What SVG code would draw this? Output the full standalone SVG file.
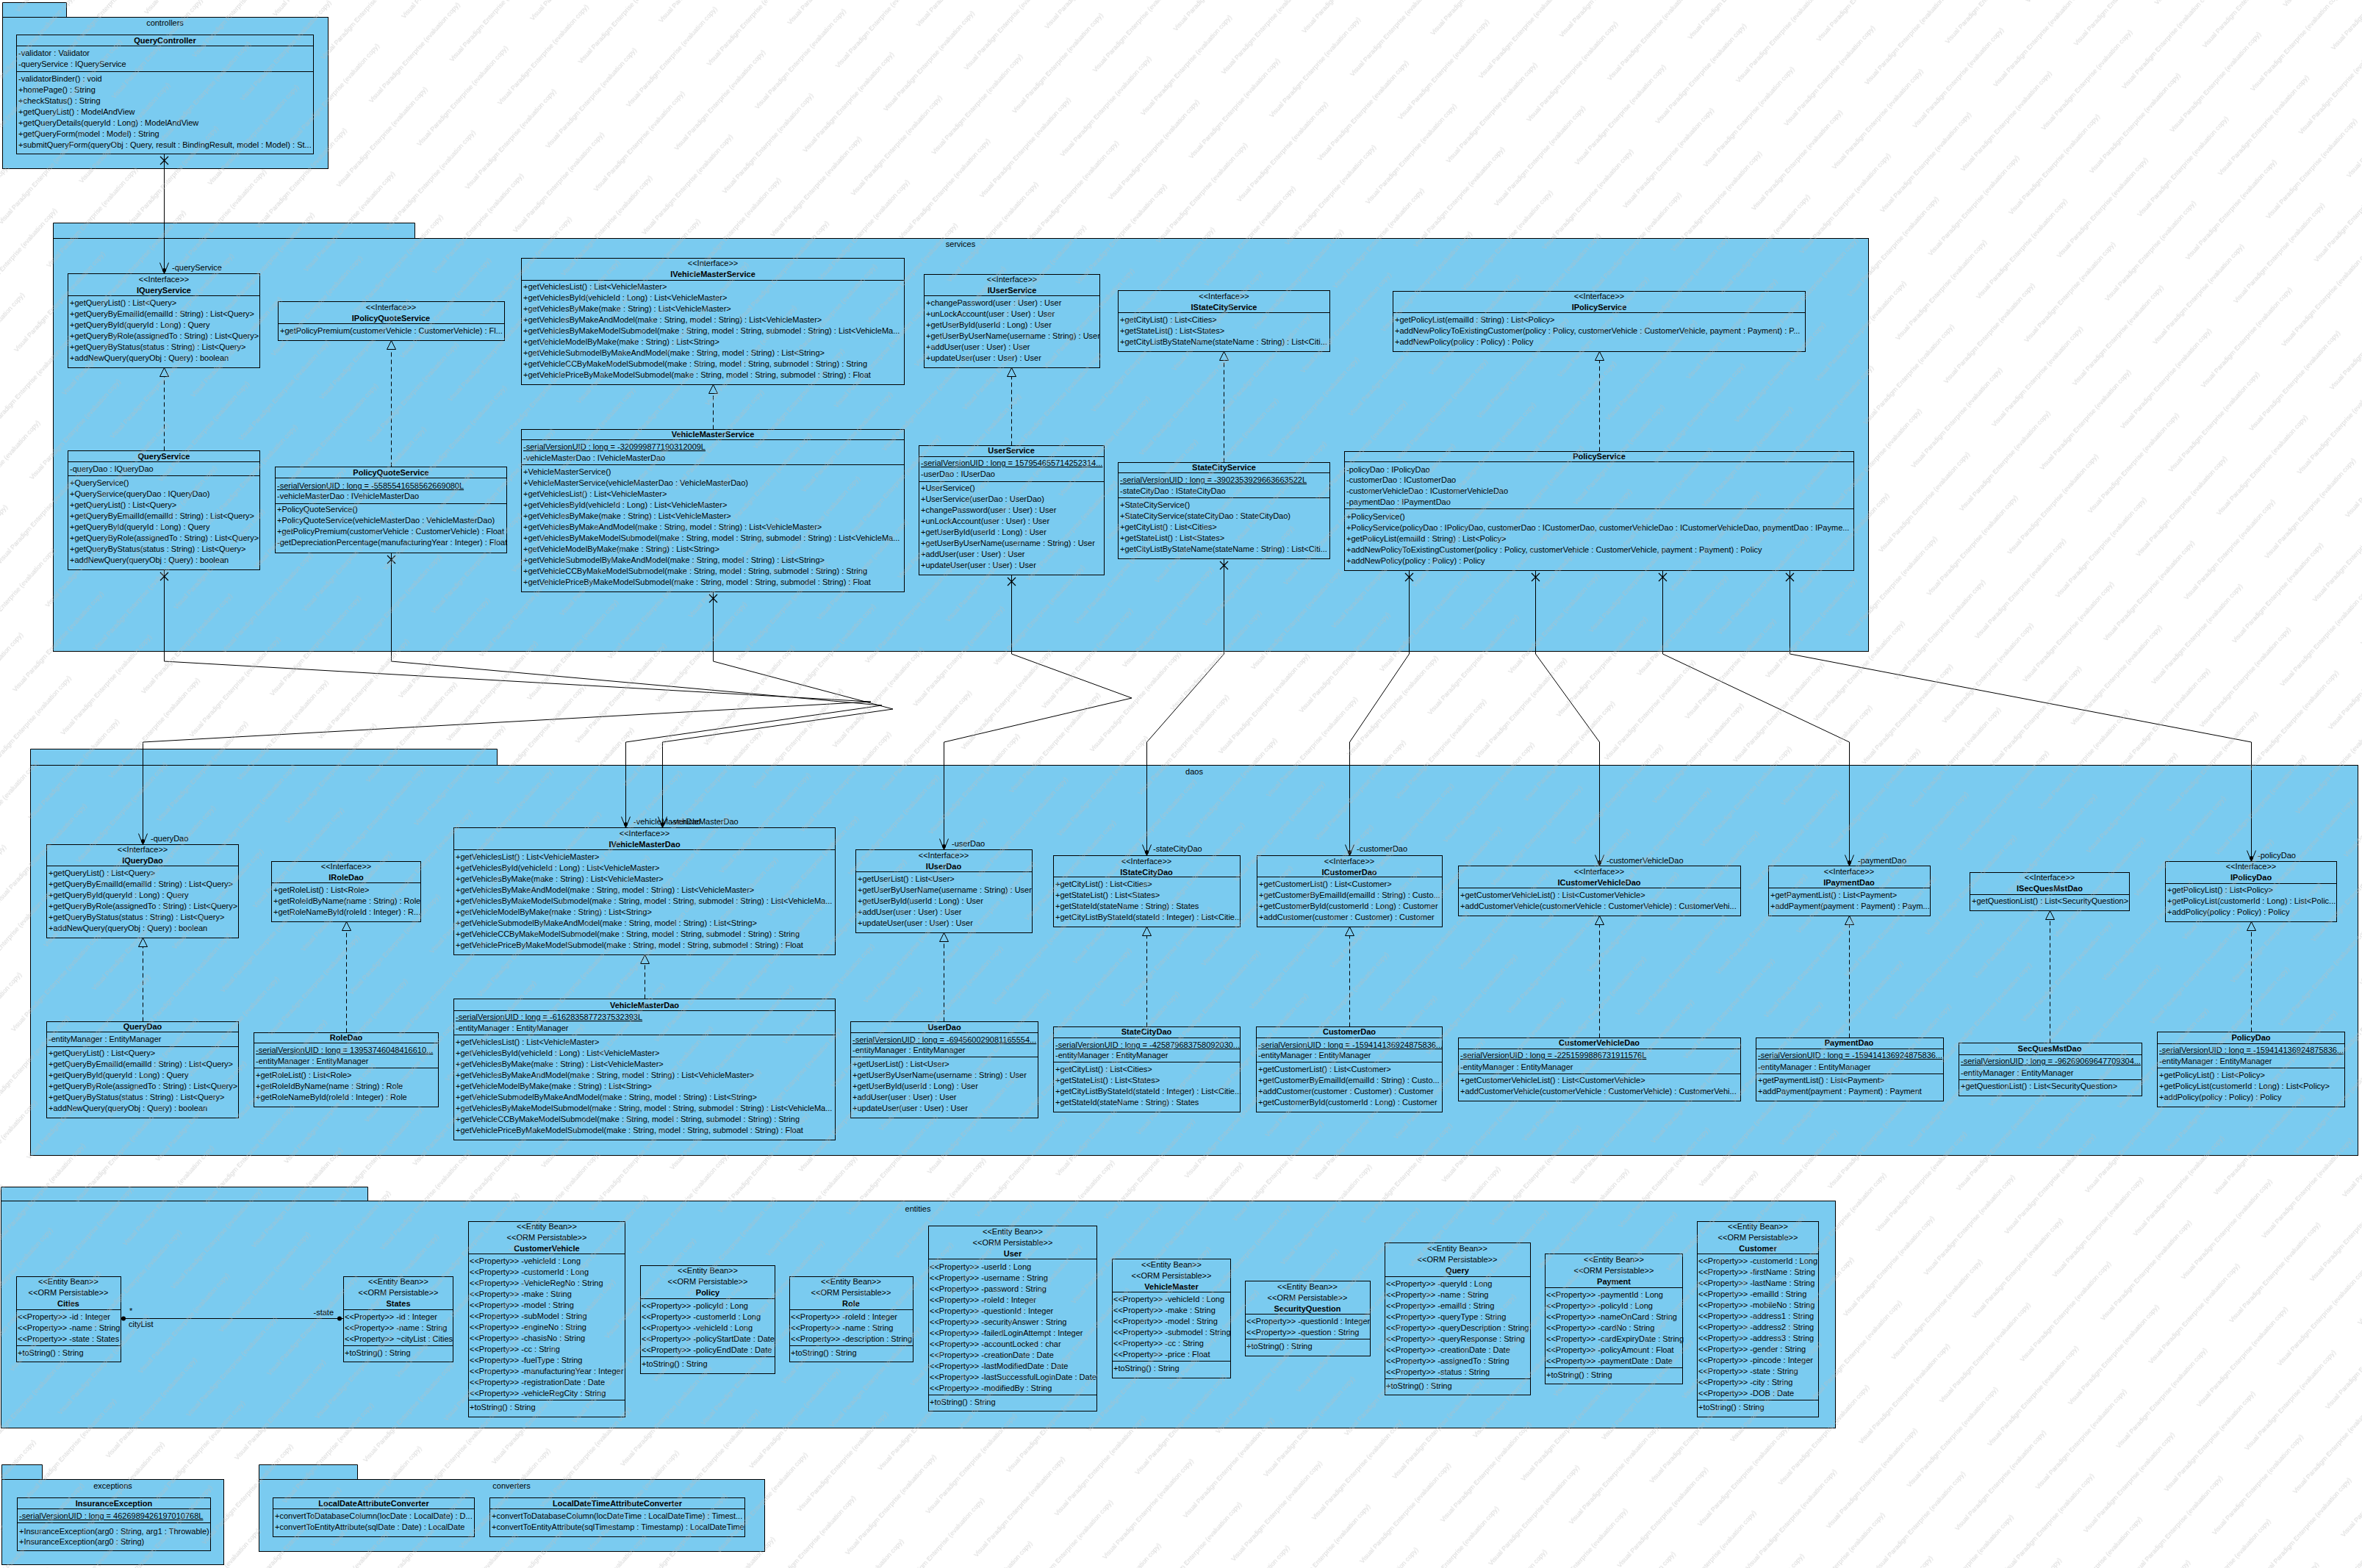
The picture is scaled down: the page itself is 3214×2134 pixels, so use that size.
<svg xmlns="http://www.w3.org/2000/svg" width="3214" height="2134" viewBox="0 0 3214 2134">
<style>
.pk{fill:#7ACBF0;stroke:#000;stroke-width:1}
.cl{fill:#7ACBF0;stroke:#000;stroke-width:1}
.sep{stroke:#000;stroke-width:1;fill:none}
.t{font-family:"Liberation Sans",Arial,sans-serif;font-size:11px;fill:#000}
.b{font-weight:bold}
.c{text-anchor:middle}
.u{text-decoration:underline}
.ln{stroke:#000;stroke-width:1;fill:none}
.comp{marker-start:url(#xend);marker-end:url(#nav)}
.real{stroke-dasharray:6 4;marker-end:url(#tri)}
.wmt{font-family:"Liberation Sans",Arial,sans-serif;font-size:9px;fill:#bdbdbd;fill-opacity:0.6}
</style>
<defs>
<marker id="nav" markerUnits="userSpaceOnUse" viewBox="-20 -10 24 20" refX="0" refY="0" markerWidth="24" markerHeight="20" orient="auto" overflow="visible">
<path d="M-15,-6L0,0L-15,6" fill="none" stroke="#000" stroke-width="1"/>
<circle cx="-5" cy="0" r="2.6" fill="#000"/>
</marker>
<marker id="xend" markerUnits="userSpaceOnUse" viewBox="-2 -8 20 16" refX="0" refY="0" markerWidth="20" markerHeight="16" orient="auto" overflow="visible">
<path d="M3.5,-5.5L14.5,5.5M3.5,5.5L14.5,-5.5" fill="none" stroke="#000" stroke-width="1.2"/>
</marker>
<marker id="tri" markerUnits="userSpaceOnUse" viewBox="-14 -8 16 16" refX="0" refY="0" markerWidth="16" markerHeight="16" orient="auto" overflow="visible">
<path d="M0,0L-12,-6L-12,6Z" fill="#7ACBF0" stroke="#000" stroke-width="1" stroke-dasharray="none"/>
</marker>
<!-- evaluation-copy watermark, tiled diagonally over the whole sheet -->
<pattern id="wm" patternUnits="userSpaceOnUse" width="230" height="88" patternTransform="rotate(-48)">
<text class="wmt" x="4" y="30">Visual Paradigm Enterprise (evaluation copy)</text>
<text class="wmt" x="119" y="74">Visual Paradigm Enterprise (evaluation copy)</text>
<text class="wmt" x="-111" y="74">Visual Paradigm Enterprise (evaluation copy)</text>
</pattern>
</defs>
<rect x="0" y="0" width="3214" height="2134" fill="#fff"/>

<!-- packages -->
<g id="pkg-controllers">
<path class="pk" d="M3.5,3.5H90.5V23.5H3.5Z"/><rect class="pk" x="3.5" y="23.5" width="443" height="206"/>
<text class="t c" x="224.5" y="35">controllers</text>
</g>
<g id="pkg-services">
<path class="pk" d="M72.5,303.5H564.5V324.5H72.5Z"/><rect class="pk" x="72.5" y="324.5" width="2470" height="562"/>
<text class="t c" x="1307" y="336">services</text>
</g>
<g id="pkg-daos">
<path class="pk" d="M41.5,1019.5H676.5V1041.5H41.5Z"/><rect class="pk" x="41.5" y="1041.5" width="3167" height="531"/>
<text class="t c" x="1625" y="1054">daos</text>
</g>
<g id="pkg-entities">
<path class="pk" d="M1.5,1615.5H500.5V1634.5H1.5Z"/><rect class="pk" x="1.5" y="1634.5" width="2496" height="309"/>
<text class="t c" x="1249" y="1649">entities</text>
</g>
<g id="pkg-exceptions">
<path class="pk" d="M2.5,1993.5H57.5V2013.5H2.5Z"/><rect class="pk" x="2.5" y="2013.5" width="302" height="116"/>
<text class="t c" x="153.5" y="2026">exceptions</text>
</g>
<g id="pkg-converters">
<path class="pk" d="M352.5,1993.5H486.5V2013.5H352.5Z"/><rect class="pk" x="352.5" y="2013.5" width="688" height="98"/>
<text class="t c" x="696" y="2026">converters</text>
</g>

<!-- controllers -->
<g id="QueryController">
<rect class="cl" x="22.5" y="47.5" width="404" height="162"/>
<path class="sep" d="M22.5,62.5H426.5M22.5,97.5H426.5"/>
<text class="t b c" x="224.5" y="59">QueryController</text>
<text class="t"><tspan x="25" y="76">-validator : Validator</tspan><tspan x="25" y="91">-queryService : IQueryService</tspan><tspan x="25" y="111">-validatorBinder() : void</tspan><tspan x="25" y="126">+homePage() : String</tspan><tspan x="25" y="141">+checkStatus() : String</tspan><tspan x="25" y="156">+getQueryList() : ModelAndView</tspan><tspan x="25" y="171">+getQueryDetails(queryId : Long) : ModelAndView</tspan><tspan x="25" y="186">+getQueryForm(model : Model) : String</tspan><tspan x="25" y="201">+submitQueryForm(queryObj : Query, result : BindingResult, model : Model) : St...</tspan></text>
</g>

<!-- services -->
<g id="IQueryService">
<rect class="cl" x="92.5" y="372.5" width="261" height="128"/>
<path class="sep" d="M92.5,402.5H353.5"/>
<text class="t c" x="223" y="384">&lt;&lt;Interface&gt;&gt;</text>
<text class="t b c" x="223" y="399">IQueryService</text>
<text class="t"><tspan x="95" y="416">+getQueryList() : List&lt;Query&gt;</tspan><tspan x="95" y="431">+getQueryByEmailId(emailId : String) : List&lt;Query&gt;</tspan><tspan x="95" y="446">+getQueryById(queryId : Long) : Query</tspan><tspan x="95" y="461">+getQueryByRole(assignedTo : String) : List&lt;Query&gt;</tspan><tspan x="95" y="476">+getQueryByStatus(status : String) : List&lt;Query&gt;</tspan><tspan x="95" y="491">+addNewQuery(queryObj : Query) : boolean</tspan></text>
</g>
<g id="IPolicyQuoteService">
<rect class="cl" x="378.5" y="410.5" width="308" height="53"/>
<path class="sep" d="M378.5,440.5H686.5"/>
<text class="t c" x="532" y="422">&lt;&lt;Interface&gt;&gt;</text>
<text class="t b c" x="532" y="437">IPolicyQuoteService</text>
<text class="t"><tspan x="381" y="454">+getPolicyPremium(customerVehicle : CustomerVehicle) : Fl...</tspan></text>
</g>
<g id="IVehicleMasterService">
<rect class="cl" x="709.5" y="351.5" width="521" height="172"/>
<path class="sep" d="M709.5,381.5H1230.5"/>
<text class="t c" x="970" y="362">&lt;&lt;Interface&gt;&gt;</text>
<text class="t b c" x="970" y="377">IVehicleMasterService</text>
<text class="t"><tspan x="712" y="394">+getVehiclesList() : List&lt;VehicleMaster&gt;</tspan><tspan x="712" y="409">+getVehiclesById(vehicleId : Long) : List&lt;VehicleMaster&gt;</tspan><tspan x="712" y="424">+getVehiclesByMake(make : String) : List&lt;VehicleMaster&gt;</tspan><tspan x="712" y="439">+getVehiclesByMakeAndModel(make : String, model : String) : List&lt;VehicleMaster&gt;</tspan><tspan x="712" y="454">+getVehiclesByMakeModelSubmodel(make : String, model : String, submodel : String) : List&lt;VehicleMa...</tspan><tspan x="712" y="469">+getVehicleModelByMake(make : String) : List&lt;String&gt;</tspan><tspan x="712" y="484">+getVehicleSubmodelByMakeAndModel(make : String, model : String) : List&lt;String&gt;</tspan><tspan x="712" y="499">+getVehicleCCByMakeModelSubmodel(make : String, model : String, submodel : String) : String</tspan><tspan x="712" y="514">+getVehiclePriceByMakeModelSubmodel(make : String, model : String, submodel : String) : Float</tspan></text>
</g>
<g id="IUserService">
<rect class="cl" x="1257.5" y="373.5" width="239" height="127"/>
<path class="sep" d="M1257.5,402.5H1496.5"/>
<text class="t c" x="1377" y="384">&lt;&lt;Interface&gt;&gt;</text>
<text class="t b c" x="1377" y="399">IUserService</text>
<text class="t"><tspan x="1260" y="416">+changePassword(user : User) : User</tspan><tspan x="1260" y="431">+unLockAccount(user : User) : User</tspan><tspan x="1260" y="446">+getUserById(userId : Long) : User</tspan><tspan x="1260" y="461">+getUserByUserName(username : String) : User</tspan><tspan x="1260" y="476">+addUser(user : User) : User</tspan><tspan x="1260" y="491">+updateUser(user : User) : User</tspan></text>
</g>
<g id="IStateCityService">
<rect class="cl" x="1521.5" y="395.5" width="288" height="83"/>
<path class="sep" d="M1521.5,425.5H1809.5"/>
<text class="t c" x="1665.5" y="407">&lt;&lt;Interface&gt;&gt;</text>
<text class="t b c" x="1665.5" y="422">IStateCityService</text>
<text class="t"><tspan x="1524" y="439">+getCityList() : List&lt;Cities&gt;</tspan><tspan x="1524" y="454">+getStateList() : List&lt;States&gt;</tspan><tspan x="1524" y="469">+getCityListByStateName(stateName : String) : List&lt;Citi...</tspan></text>
</g>
<g id="IPolicyService">
<rect class="cl" x="1895.5" y="396.5" width="561" height="82"/>
<path class="sep" d="M1895.5,425.5H2456.5"/>
<text class="t c" x="2176" y="407">&lt;&lt;Interface&gt;&gt;</text>
<text class="t b c" x="2176" y="422">IPolicyService</text>
<text class="t"><tspan x="1898" y="439">+getPolicyList(emailId : String) : List&lt;Policy&gt;</tspan><tspan x="1898" y="454">+addNewPolicyToExistingCustomer(policy : Policy, customerVehicle : CustomerVehicle, payment : Payment) : P...</tspan><tspan x="1898" y="469">+addNewPolicy(policy : Policy) : Policy</tspan></text>
</g>
<g id="QueryService">
<rect class="cl" x="92.5" y="613.5" width="261" height="162"/>
<path class="sep" d="M92.5,628.5H353.5M92.5,647.5H353.5"/>
<text class="t b c" x="223" y="625">QueryService</text>
<text class="t"><tspan x="95" y="642">-queryDao : IQueryDao</tspan><tspan x="95" y="661">+QueryService()</tspan><tspan x="95" y="676">+QueryService(queryDao : IQueryDao)</tspan><tspan x="95" y="691">+getQueryList() : List&lt;Query&gt;</tspan><tspan x="95" y="706">+getQueryByEmailId(emailId : String) : List&lt;Query&gt;</tspan><tspan x="95" y="721">+getQueryById(queryId : Long) : Query</tspan><tspan x="95" y="736">+getQueryByRole(assignedTo : String) : List&lt;Query&gt;</tspan><tspan x="95" y="751">+getQueryByStatus(status : String) : List&lt;Query&gt;</tspan><tspan x="95" y="766">+addNewQuery(queryObj : Query) : boolean</tspan></text>
</g>
<g id="PolicyQuoteService">
<rect class="cl" x="374.5" y="635.5" width="315" height="117"/>
<path class="sep" d="M374.5,650.5H689.5M374.5,685.5H689.5"/>
<text class="t b c" x="532" y="647">PolicyQuoteService</text>
<text class="t"><tspan class="u" x="377" y="665">-serialVersionUID : long = -5585541658562669080L</tspan><tspan x="377" y="679">-vehicleMasterDao : IVehicleMasterDao</tspan><tspan x="377" y="697">+PolicyQuoteService()</tspan><tspan x="377" y="712">+PolicyQuoteService(vehicleMasterDao : VehicleMasterDao)</tspan><tspan x="377" y="727">+getPolicyPremium(customerVehicle : CustomerVehicle) : Float</tspan><tspan x="377" y="742">-getDepreciationPercentage(manufacturingYear : Integer) : Float</tspan></text>
</g>
<g id="VehicleMasterService">
<rect class="cl" x="709.5" y="584.5" width="521" height="221"/>
<path class="sep" d="M709.5,598.5H1230.5M709.5,632.5H1230.5"/>
<text class="t b c" x="970" y="595">VehicleMasterService</text>
<text class="t"><tspan class="u" x="712" y="612">-serialVersionUID : long = -320999877190312009L</tspan><tspan x="712" y="627">-vehicleMasterDao : IVehicleMasterDao</tspan><tspan x="712" y="646">+VehicleMasterService()</tspan><tspan x="712" y="661">+VehicleMasterService(vehicleMasterDao : VehicleMasterDao)</tspan><tspan x="712" y="676">+getVehiclesList() : List&lt;VehicleMaster&gt;</tspan><tspan x="712" y="691">+getVehiclesById(vehicleId : Long) : List&lt;VehicleMaster&gt;</tspan><tspan x="712" y="706">+getVehiclesByMake(make : String) : List&lt;VehicleMaster&gt;</tspan><tspan x="712" y="721">+getVehiclesByMakeAndModel(make : String, model : String) : List&lt;VehicleMaster&gt;</tspan><tspan x="712" y="736">+getVehiclesByMakeModelSubmodel(make : String, model : String, submodel : String) : List&lt;VehicleMa...</tspan><tspan x="712" y="751">+getVehicleModelByMake(make : String) : List&lt;String&gt;</tspan><tspan x="712" y="766">+getVehicleSubmodelByMakeAndModel(make : String, model : String) : List&lt;String&gt;</tspan><tspan x="712" y="781">+getVehicleCCByMakeModelSubmodel(make : String, model : String, submodel : String) : String</tspan><tspan x="712" y="796">+getVehiclePriceByMakeModelSubmodel(make : String, model : String, submodel : String) : Float</tspan></text>
</g>
<g id="UserService">
<rect class="cl" x="1250.5" y="606.5" width="252" height="176"/>
<path class="sep" d="M1250.5,621.5H1502.5M1250.5,655.5H1502.5"/>
<text class="t b c" x="1376" y="617">UserService</text>
<text class="t"><tspan class="u" x="1253" y="634">-serialVersionUID : long = 157954655714252314...</tspan><tspan x="1253" y="649">-userDao : IUserDao</tspan><tspan x="1253" y="668">+UserService()</tspan><tspan x="1253" y="683">+UserService(userDao : UserDao)</tspan><tspan x="1253" y="698">+changePassword(user : User) : User</tspan><tspan x="1253" y="713">+unLockAccount(user : User) : User</tspan><tspan x="1253" y="728">+getUserById(userId : Long) : User</tspan><tspan x="1253" y="743">+getUserByUserName(username : String) : User</tspan><tspan x="1253" y="758">+addUser(user : User) : User</tspan><tspan x="1253" y="773">+updateUser(user : User) : User</tspan></text>
</g>
<g id="StateCityService">
<rect class="cl" x="1521.5" y="629.5" width="288" height="131"/>
<path class="sep" d="M1521.5,643.5H1809.5M1521.5,677.5H1809.5"/>
<text class="t b c" x="1665.5" y="640">StateCityService</text>
<text class="t"><tspan class="u" x="1524" y="657">-serialVersionUID : long = -3902353929663663522L</tspan><tspan x="1524" y="672">-stateCityDao : IStateCityDao</tspan><tspan x="1524" y="691">+StateCityService()</tspan><tspan x="1524" y="706">+StateCityService(stateCityDao : StateCityDao)</tspan><tspan x="1524" y="721">+getCityList() : List&lt;Cities&gt;</tspan><tspan x="1524" y="736">+getStateList() : List&lt;States&gt;</tspan><tspan x="1524" y="751">+getCityListByStateName(stateName : String) : List&lt;Citi...</tspan></text>
</g>
<g id="PolicyService">
<rect class="cl" x="1829.5" y="614.5" width="693" height="162"/>
<path class="sep" d="M1829.5,628.5H2522.5M1829.5,692.5H2522.5"/>
<text class="t b c" x="2176" y="625">PolicyService</text>
<text class="t"><tspan x="1832" y="643">-policyDao : IPolicyDao</tspan><tspan x="1832" y="657">-customerDao : ICustomerDao</tspan><tspan x="1832" y="672">-customerVehicleDao : ICustomerVehicleDao</tspan><tspan x="1832" y="687">-paymentDao : IPaymentDao</tspan><tspan x="1832" y="707">+PolicyService()</tspan><tspan x="1832" y="722">+PolicyService(policyDao : IPolicyDao, customerDao : ICustomerDao, customerVehicleDao : ICustomerVehicleDao, paymentDao : IPayme...</tspan><tspan x="1832" y="737">+getPolicyList(emailId : String) : List&lt;Policy&gt;</tspan><tspan x="1832" y="752">+addNewPolicyToExistingCustomer(policy : Policy, customerVehicle : CustomerVehicle, payment : Payment) : Policy</tspan><tspan x="1832" y="767">+addNewPolicy(policy : Policy) : Policy</tspan></text>
</g>

<!-- daos -->
<g id="IQueryDao">
<rect class="cl" x="63.5" y="1149.5" width="261" height="127"/>
<path class="sep" d="M63.5,1178.5H324.5"/>
<text class="t c" x="194" y="1160">&lt;&lt;Interface&gt;&gt;</text>
<text class="t b c" x="194" y="1175">IQueryDao</text>
<text class="t"><tspan x="66" y="1192">+getQueryList() : List&lt;Query&gt;</tspan><tspan x="66" y="1207">+getQueryByEmailId(emailId : String) : List&lt;Query&gt;</tspan><tspan x="66" y="1222">+getQueryById(queryId : Long) : Query</tspan><tspan x="66" y="1237">+getQueryByRole(assignedTo : String) : List&lt;Query&gt;</tspan><tspan x="66" y="1252">+getQueryByStatus(status : String) : List&lt;Query&gt;</tspan><tspan x="66" y="1267">+addNewQuery(queryObj : Query) : boolean</tspan></text>
</g>
<g id="QueryDao">
<rect class="cl" x="63.5" y="1390.5" width="261" height="131"/>
<path class="sep" d="M63.5,1404.5H324.5M63.5,1424.5H324.5"/>
<text class="t b c" x="194" y="1401">QueryDao</text>
<text class="t"><tspan x="66" y="1418">-entityManager : EntityManager</tspan><tspan x="66" y="1437">+getQueryList() : List&lt;Query&gt;</tspan><tspan x="66" y="1452">+getQueryByEmailId(emailId : String) : List&lt;Query&gt;</tspan><tspan x="66" y="1467">+getQueryById(queryId : Long) : Query</tspan><tspan x="66" y="1482">+getQueryByRole(assignedTo : String) : List&lt;Query&gt;</tspan><tspan x="66" y="1497">+getQueryByStatus(status : String) : List&lt;Query&gt;</tspan><tspan x="66" y="1512">+addNewQuery(queryObj : Query) : boolean</tspan></text>
</g>
<g id="IRoleDao">
<rect class="cl" x="369.5" y="1172.5" width="203" height="82"/>
<path class="sep" d="M369.5,1201.5H572.5"/>
<text class="t c" x="471" y="1183">&lt;&lt;Interface&gt;&gt;</text>
<text class="t b c" x="471" y="1198">IRoleDao</text>
<text class="t"><tspan x="372" y="1215">+getRoleList() : List&lt;Role&gt;</tspan><tspan x="372" y="1230">+getRoleIdByName(name : String) : Role</tspan><tspan x="372" y="1245">+getRoleNameById(roleId : Integer) : R...</tspan></text>
</g>
<g id="RoleDao">
<rect class="cl" x="345.5" y="1405.5" width="251" height="101"/>
<path class="sep" d="M345.5,1419.5H596.5M345.5,1453.5H596.5"/>
<text class="t b c" x="471" y="1416">RoleDao</text>
<text class="t"><tspan class="u" x="348" y="1433">-serialVersionUID : long = 13953746048416610...</tspan><tspan x="348" y="1448">-entityManager : EntityManager</tspan><tspan x="348" y="1467">+getRoleList() : List&lt;Role&gt;</tspan><tspan x="348" y="1482">+getRoleIdByName(name : String) : Role</tspan><tspan x="348" y="1497">+getRoleNameById(roleId : Integer) : Role</tspan></text>
</g>
<g id="IVehicleMasterDao">
<rect class="cl" x="617.5" y="1126.5" width="519" height="173"/>
<path class="sep" d="M617.5,1156.5H1136.5"/>
<text class="t c" x="877" y="1138">&lt;&lt;Interface&gt;&gt;</text>
<text class="t b c" x="877" y="1153">IVehicleMasterDao</text>
<text class="t"><tspan x="620" y="1170">+getVehiclesList() : List&lt;VehicleMaster&gt;</tspan><tspan x="620" y="1185">+getVehiclesById(vehicleId : Long) : List&lt;VehicleMaster&gt;</tspan><tspan x="620" y="1200">+getVehiclesByMake(make : String) : List&lt;VehicleMaster&gt;</tspan><tspan x="620" y="1215">+getVehiclesByMakeAndModel(make : String, model : String) : List&lt;VehicleMaster&gt;</tspan><tspan x="620" y="1230">+getVehiclesByMakeModelSubmodel(make : String, model : String, submodel : String) : List&lt;VehicleMa...</tspan><tspan x="620" y="1245">+getVehicleModelByMake(make : String) : List&lt;String&gt;</tspan><tspan x="620" y="1260">+getVehicleSubmodelByMakeAndModel(make : String, model : String) : List&lt;String&gt;</tspan><tspan x="620" y="1275">+getVehicleCCByMakeModelSubmodel(make : String, model : String, submodel : String) : String</tspan><tspan x="620" y="1290">+getVehiclePriceByMakeModelSubmodel(make : String, model : String, submodel : String) : Float</tspan></text>
</g>
<g id="VehicleMasterDao">
<rect class="cl" x="617.5" y="1359.5" width="519" height="192"/>
<path class="sep" d="M617.5,1375.5H1136.5M617.5,1408.5H1136.5"/>
<text class="t b c" x="877" y="1372">VehicleMasterDao</text>
<text class="t"><tspan class="u" x="620" y="1388">-serialVersionUID : long = -6162835877237532393L</tspan><tspan x="620" y="1403">-entityManager : EntityManager</tspan><tspan x="620" y="1422">+getVehiclesList() : List&lt;VehicleMaster&gt;</tspan><tspan x="620" y="1437">+getVehiclesById(vehicleId : Long) : List&lt;VehicleMaster&gt;</tspan><tspan x="620" y="1452">+getVehiclesByMake(make : String) : List&lt;VehicleMaster&gt;</tspan><tspan x="620" y="1467">+getVehiclesByMakeAndModel(make : String, model : String) : List&lt;VehicleMaster&gt;</tspan><tspan x="620" y="1482">+getVehicleModelByMake(make : String) : List&lt;String&gt;</tspan><tspan x="620" y="1497">+getVehicleSubmodelByMakeAndModel(make : String, model : String) : List&lt;String&gt;</tspan><tspan x="620" y="1512">+getVehiclesByMakeModelSubmodel(make : String, model : String, submodel : String) : List&lt;VehicleMa...</tspan><tspan x="620" y="1527">+getVehicleCCByMakeModelSubmodel(make : String, model : String, submodel : String) : String</tspan><tspan x="620" y="1542">+getVehiclePriceByMakeModelSubmodel(make : String, model : String, submodel : String) : Float</tspan></text>
</g>
<g id="IUserDao">
<rect class="cl" x="1164.5" y="1156.5" width="240" height="113"/>
<path class="sep" d="M1164.5,1186.5H1404.5"/>
<text class="t c" x="1284" y="1168">&lt;&lt;Interface&gt;&gt;</text>
<text class="t b c" x="1284" y="1183">IUserDao</text>
<text class="t"><tspan x="1167" y="1200">+getUserList() : List&lt;User&gt;</tspan><tspan x="1167" y="1215">+getUserByUserName(username : String) : User</tspan><tspan x="1167" y="1230">+getUserById(userId : Long) : User</tspan><tspan x="1167" y="1245">+addUser(user : User) : User</tspan><tspan x="1167" y="1260">+updateUser(user : User) : User</tspan></text>
</g>
<g id="UserDao">
<rect class="cl" x="1157.5" y="1390.5" width="255" height="131"/>
<path class="sep" d="M1157.5,1405.5H1412.5M1157.5,1438.5H1412.5"/>
<text class="t b c" x="1285" y="1402">UserDao</text>
<text class="t"><tspan class="u" x="1160" y="1419">-serialVersionUID : long = -694560029081165554...</tspan><tspan x="1160" y="1433">-entityManager : EntityManager</tspan><tspan x="1160" y="1452">+getUserList() : List&lt;User&gt;</tspan><tspan x="1160" y="1467">+getUserByUserName(username : String) : User</tspan><tspan x="1160" y="1482">+getUserById(userId : Long) : User</tspan><tspan x="1160" y="1497">+addUser(user : User) : User</tspan><tspan x="1160" y="1512">+updateUser(user : User) : User</tspan></text>
</g>
<g id="IStateCityDao">
<rect class="cl" x="1433.5" y="1164.5" width="254" height="97"/>
<path class="sep" d="M1433.5,1193.5H1687.5"/>
<text class="t c" x="1560" y="1176">&lt;&lt;Interface&gt;&gt;</text>
<text class="t b c" x="1560" y="1191">IStateCityDao</text>
<text class="t"><tspan x="1436" y="1207">+getCityList() : List&lt;Cities&gt;</tspan><tspan x="1436" y="1222">+getStateList() : List&lt;States&gt;</tspan><tspan x="1436" y="1237">+getStateId(stateName : String) : States</tspan><tspan x="1436" y="1252">+getCityListByStateId(stateId : Integer) : List&lt;Citie...</tspan></text>
</g>
<g id="StateCityDao">
<rect class="cl" x="1433.5" y="1397.5" width="254" height="116"/>
<path class="sep" d="M1433.5,1412.5H1687.5M1433.5,1445.5H1687.5"/>
<text class="t b c" x="1560" y="1408">StateCityDao</text>
<text class="t"><tspan class="u" x="1436" y="1426">-serialVersionUID : long = -425879683758092030...</tspan><tspan x="1436" y="1440">-entityManager : EntityManager</tspan><tspan x="1436" y="1459">+getCityList() : List&lt;Cities&gt;</tspan><tspan x="1436" y="1474">+getStateList() : List&lt;States&gt;</tspan><tspan x="1436" y="1489">+getCityListByStateId(stateId : Integer) : List&lt;Citie...</tspan><tspan x="1436" y="1504">+getStateId(stateName : String) : States</tspan></text>
</g>
<g id="ICustomerDao">
<rect class="cl" x="1710.5" y="1164.5" width="252" height="97"/>
<path class="sep" d="M1710.5,1193.5H1962.5"/>
<text class="t c" x="1836" y="1176">&lt;&lt;Interface&gt;&gt;</text>
<text class="t b c" x="1836" y="1191">ICustomerDao</text>
<text class="t"><tspan x="1713" y="1207">+getCustomerList() : List&lt;Customer&gt;</tspan><tspan x="1713" y="1222">+getCustomerByEmailId(emailId : String) : Custo...</tspan><tspan x="1713" y="1237">+getCustomerById(customerId : Long) : Customer</tspan><tspan x="1713" y="1252">+addCustomer(customer : Customer) : Customer</tspan></text>
</g>
<g id="CustomerDao">
<rect class="cl" x="1709.5" y="1397.5" width="253" height="116"/>
<path class="sep" d="M1709.5,1412.5H1962.5M1709.5,1445.5H1962.5"/>
<text class="t b c" x="1836" y="1408">CustomerDao</text>
<text class="t"><tspan class="u" x="1712" y="1426">-serialVersionUID : long = -159414136924875836...</tspan><tspan x="1712" y="1440">-entityManager : EntityManager</tspan><tspan x="1712" y="1459">+getCustomerList() : List&lt;Customer&gt;</tspan><tspan x="1712" y="1474">+getCustomerByEmailId(emailId : String) : Custo...</tspan><tspan x="1712" y="1489">+addCustomer(customer : Customer) : Customer</tspan><tspan x="1712" y="1504">+getCustomerById(customerId : Long) : Customer</tspan></text>
</g>
<g id="ICustomerVehicleDao">
<rect class="cl" x="1984.5" y="1178.5" width="384" height="68"/>
<path class="sep" d="M1984.5,1208.5H2368.5"/>
<text class="t c" x="2176" y="1190">&lt;&lt;Interface&gt;&gt;</text>
<text class="t b c" x="2176" y="1205">ICustomerVehicleDao</text>
<text class="t"><tspan x="1987" y="1222">+getCustomerVehicleList() : List&lt;CustomerVehicle&gt;</tspan><tspan x="1987" y="1237">+addCustomerVehicle(customerVehicle : CustomerVehicle) : CustomerVehi...</tspan></text>
</g>
<g id="CustomerVehicleDao">
<rect class="cl" x="1984.5" y="1412.5" width="384" height="86"/>
<path class="sep" d="M1984.5,1427.5H2368.5M1984.5,1461.5H2368.5"/>
<text class="t b c" x="2176" y="1423">CustomerVehicleDao</text>
<text class="t"><tspan class="u" x="1987" y="1440">-serialVersionUID : long = -2251599886731911576L</tspan><tspan x="1987" y="1456">-entityManager : EntityManager</tspan><tspan x="1987" y="1474">+getCustomerVehicleList() : List&lt;CustomerVehicle&gt;</tspan><tspan x="1987" y="1489">+addCustomerVehicle(customerVehicle : CustomerVehicle) : CustomerVehi...</tspan></text>
</g>
<g id="IPaymentDao">
<rect class="cl" x="2406.5" y="1178.5" width="220" height="68"/>
<path class="sep" d="M2406.5,1208.5H2626.5"/>
<text class="t c" x="2516" y="1190">&lt;&lt;Interface&gt;&gt;</text>
<text class="t b c" x="2516" y="1205">IPaymentDao</text>
<text class="t"><tspan x="2409" y="1222">+getPaymentList() : List&lt;Payment&gt;</tspan><tspan x="2409" y="1237">+addPayment(payment : Payment) : Paym...</tspan></text>
</g>
<g id="PaymentDao">
<rect class="cl" x="2389.5" y="1412.5" width="255" height="86"/>
<path class="sep" d="M2389.5,1427.5H2644.5M2389.5,1461.5H2644.5"/>
<text class="t b c" x="2516" y="1423">PaymentDao</text>
<text class="t"><tspan class="u" x="2392" y="1440">-serialVersionUID : long = -159414136924875836...</tspan><tspan x="2392" y="1456">-entityManager : EntityManager</tspan><tspan x="2392" y="1474">+getPaymentList() : List&lt;Payment&gt;</tspan><tspan x="2392" y="1489">+addPayment(payment : Payment) : Payment</tspan></text>
</g>
<g id="ISecQuesMstDao">
<rect class="cl" x="2680.5" y="1187.5" width="217" height="52"/>
<path class="sep" d="M2680.5,1217.5H2897.5"/>
<text class="t c" x="2789" y="1198">&lt;&lt;Interface&gt;&gt;</text>
<text class="t b c" x="2789" y="1213">ISecQuesMstDao</text>
<text class="t"><tspan x="2683" y="1230">+getQuestionList() : List&lt;SecurityQuestion&gt;</tspan></text>
</g>
<g id="SecQuesMstDao">
<rect class="cl" x="2665.5" y="1419.5" width="249" height="72"/>
<path class="sep" d="M2665.5,1435.5H2914.5M2665.5,1469.5H2914.5"/>
<text class="t b c" x="2789" y="1431">SecQuesMstDao</text>
<text class="t"><tspan class="u" x="2668" y="1448">-serialVersionUID : long = -96269069647709304...</tspan><tspan x="2668" y="1464">-entityManager : EntityManager</tspan><tspan x="2668" y="1482">+getQuestionList() : List&lt;SecurityQuestion&gt;</tspan></text>
</g>
<g id="IPolicyDao">
<rect class="cl" x="2946.5" y="1172.5" width="233" height="82"/>
<path class="sep" d="M2946.5,1202.5H3179.5"/>
<text class="t c" x="3063" y="1183">&lt;&lt;Interface&gt;&gt;</text>
<text class="t b c" x="3063" y="1198">IPolicyDao</text>
<text class="t"><tspan x="2949" y="1215">+getPolicyList() : List&lt;Policy&gt;</tspan><tspan x="2949" y="1230">+getPolicyList(customerId : Long) : List&lt;Polic...</tspan><tspan x="2949" y="1245">+addPolicy(policy : Policy) : Policy</tspan></text>
</g>
<g id="PolicyDao">
<rect class="cl" x="2935.5" y="1404.5" width="255" height="102"/>
<path class="sep" d="M2935.5,1420.5H3190.5M2935.5,1453.5H3190.5"/>
<text class="t b c" x="3063" y="1416">PolicyDao</text>
<text class="t"><tspan class="u" x="2938" y="1433">-serialVersionUID : long = -159414136924875836...</tspan><tspan x="2938" y="1448">-entityManager : EntityManager</tspan><tspan x="2938" y="1467">+getPolicyList() : List&lt;Policy&gt;</tspan><tspan x="2938" y="1482">+getPolicyList(customerId : Long) : List&lt;Policy&gt;</tspan><tspan x="2938" y="1497">+addPolicy(policy : Policy) : Policy</tspan></text>
</g>

<!-- entities -->
<g id="Cities">
<rect class="cl" x="22.5" y="1737.5" width="142" height="116"/>
<path class="sep" d="M22.5,1782.5H164.5M22.5,1831.5H164.5"/>
<text class="t c" x="93" y="1748">&lt;&lt;Entity Bean&gt;&gt;</text>
<text class="t c" x="93" y="1763">&lt;&lt;ORM Persistable&gt;&gt;</text>
<text class="t b c" x="93" y="1778">Cities</text>
<text class="t"><tspan x="24" y="1796">&lt;&lt;Property&gt;&gt; -id : Integer</tspan><tspan x="24" y="1811">&lt;&lt;Property&gt;&gt; -name : String</tspan><tspan x="24" y="1826">&lt;&lt;Property&gt;&gt; -state : States</tspan><tspan x="24" y="1845">+toString() : String</tspan></text>
</g>
<g id="States">
<rect class="cl" x="467.5" y="1737.5" width="149" height="116"/>
<path class="sep" d="M467.5,1782.5H616.5M467.5,1831.5H616.5"/>
<text class="t c" x="542" y="1748">&lt;&lt;Entity Bean&gt;&gt;</text>
<text class="t c" x="542" y="1763">&lt;&lt;ORM Persistable&gt;&gt;</text>
<text class="t b c" x="542" y="1778">States</text>
<text class="t"><tspan x="469" y="1796">&lt;&lt;Property&gt;&gt; -id : Integer</tspan><tspan x="469" y="1811">&lt;&lt;Property&gt;&gt; -name : String</tspan><tspan x="469" y="1826">&lt;&lt;Property&gt;&gt; ~cityList : Cities</tspan><tspan x="469" y="1845">+toString() : String</tspan></text>
</g>
<g id="CustomerVehicle">
<rect class="cl" x="637.5" y="1662.5" width="213" height="266"/>
<path class="sep" d="M637.5,1706.5H850.5M637.5,1905.5H850.5"/>
<text class="t c" x="744" y="1673">&lt;&lt;Entity Bean&gt;&gt;</text>
<text class="t c" x="744" y="1688">&lt;&lt;ORM Persistable&gt;&gt;</text>
<text class="t b c" x="744" y="1703">CustomerVehicle</text>
<text class="t"><tspan x="639" y="1720">&lt;&lt;Property&gt;&gt; -vehicleId : Long</tspan><tspan x="639" y="1735">&lt;&lt;Property&gt;&gt; -customerId : Long</tspan><tspan x="639" y="1750">&lt;&lt;Property&gt;&gt; -VehicleRegNo : String</tspan><tspan x="639" y="1765">&lt;&lt;Property&gt;&gt; -make : String</tspan><tspan x="639" y="1780">&lt;&lt;Property&gt;&gt; -model : String</tspan><tspan x="639" y="1795">&lt;&lt;Property&gt;&gt; -subModel : String</tspan><tspan x="639" y="1810">&lt;&lt;Property&gt;&gt; -engineNo : String</tspan><tspan x="639" y="1825">&lt;&lt;Property&gt;&gt; -chasisNo : String</tspan><tspan x="639" y="1840">&lt;&lt;Property&gt;&gt; -cc : String</tspan><tspan x="639" y="1855">&lt;&lt;Property&gt;&gt; -fuelType : String</tspan><tspan x="639" y="1870">&lt;&lt;Property&gt;&gt; -manufacturingYear : Integer</tspan><tspan x="639" y="1885">&lt;&lt;Property&gt;&gt; -registrationDate : Date</tspan><tspan x="639" y="1900">&lt;&lt;Property&gt;&gt; -vehicleRegCity : String</tspan><tspan x="639" y="1919">+toString() : String</tspan></text>
</g>
<g id="Policy">
<rect class="cl" x="871.5" y="1722.5" width="183" height="147"/>
<path class="sep" d="M871.5,1767.5H1054.5M871.5,1846.5H1054.5"/>
<text class="t c" x="963" y="1733">&lt;&lt;Entity Bean&gt;&gt;</text>
<text class="t c" x="963" y="1748">&lt;&lt;ORM Persistable&gt;&gt;</text>
<text class="t b c" x="963" y="1763">Policy</text>
<text class="t"><tspan x="873" y="1781">&lt;&lt;Property&gt;&gt; -policyId : Long</tspan><tspan x="873" y="1796">&lt;&lt;Property&gt;&gt; -customerId : Long</tspan><tspan x="873" y="1811">&lt;&lt;Property&gt;&gt; -vehicleId : Long</tspan><tspan x="873" y="1826">&lt;&lt;Property&gt;&gt; -policyStartDate : Date</tspan><tspan x="873" y="1841">&lt;&lt;Property&gt;&gt; -policyEndDate : Date</tspan><tspan x="873" y="1860">+toString() : String</tspan></text>
</g>
<g id="Role">
<rect class="cl" x="1074.5" y="1737.5" width="168" height="116"/>
<path class="sep" d="M1074.5,1782.5H1242.5M1074.5,1831.5H1242.5"/>
<text class="t c" x="1158" y="1748">&lt;&lt;Entity Bean&gt;&gt;</text>
<text class="t c" x="1158" y="1763">&lt;&lt;ORM Persistable&gt;&gt;</text>
<text class="t b c" x="1158" y="1778">Role</text>
<text class="t"><tspan x="1076" y="1796">&lt;&lt;Property&gt;&gt; -roleId : Integer</tspan><tspan x="1076" y="1811">&lt;&lt;Property&gt;&gt; -name : String</tspan><tspan x="1076" y="1826">&lt;&lt;Property&gt;&gt; -description : String</tspan><tspan x="1076" y="1845">+toString() : String</tspan></text>
</g>
<g id="User">
<rect class="cl" x="1263.5" y="1668.5" width="229" height="252"/>
<path class="sep" d="M1263.5,1713.5H1492.5M1263.5,1898.5H1492.5"/>
<text class="t c" x="1378" y="1680">&lt;&lt;Entity Bean&gt;&gt;</text>
<text class="t c" x="1378" y="1695">&lt;&lt;ORM Persistable&gt;&gt;</text>
<text class="t b c" x="1378" y="1710">User</text>
<text class="t"><tspan x="1265" y="1728">&lt;&lt;Property&gt;&gt; -userId : Long</tspan><tspan x="1265" y="1743">&lt;&lt;Property&gt;&gt; -username : String</tspan><tspan x="1265" y="1758">&lt;&lt;Property&gt;&gt; -password : String</tspan><tspan x="1265" y="1773">&lt;&lt;Property&gt;&gt; -roleId : Integer</tspan><tspan x="1265" y="1788">&lt;&lt;Property&gt;&gt; -questionId : Integer</tspan><tspan x="1265" y="1803">&lt;&lt;Property&gt;&gt; -securityAnswer : String</tspan><tspan x="1265" y="1818">&lt;&lt;Property&gt;&gt; -failedLoginAttempt : Integer</tspan><tspan x="1265" y="1833">&lt;&lt;Property&gt;&gt; -accountLocked : char</tspan><tspan x="1265" y="1848">&lt;&lt;Property&gt;&gt; -creationDate : Date</tspan><tspan x="1265" y="1863">&lt;&lt;Property&gt;&gt; -lastModifiedDate : Date</tspan><tspan x="1265" y="1878">&lt;&lt;Property&gt;&gt; -lastSuccessfulLoginDate : Date</tspan><tspan x="1265" y="1893">&lt;&lt;Property&gt;&gt; -modifiedBy : String</tspan><tspan x="1265" y="1912">+toString() : String</tspan></text>
</g>
<g id="VehicleMaster">
<rect class="cl" x="1513.5" y="1713.5" width="161" height="162"/>
<path class="sep" d="M1513.5,1758.5H1674.5M1513.5,1852.5H1674.5"/>
<text class="t c" x="1594" y="1725">&lt;&lt;Entity Bean&gt;&gt;</text>
<text class="t c" x="1594" y="1740">&lt;&lt;ORM Persistable&gt;&gt;</text>
<text class="t b c" x="1594" y="1755">VehicleMaster</text>
<text class="t"><tspan x="1515" y="1772">&lt;&lt;Property&gt;&gt; -vehicleId : Long</tspan><tspan x="1515" y="1787">&lt;&lt;Property&gt;&gt; -make : String</tspan><tspan x="1515" y="1802">&lt;&lt;Property&gt;&gt; -model : String</tspan><tspan x="1515" y="1817">&lt;&lt;Property&gt;&gt; -submodel : String</tspan><tspan x="1515" y="1832">&lt;&lt;Property&gt;&gt; -cc : String</tspan><tspan x="1515" y="1847">&lt;&lt;Property&gt;&gt; -price : Float</tspan><tspan x="1515" y="1866">+toString() : String</tspan></text>
</g>
<g id="SecurityQuestion">
<rect class="cl" x="1694.5" y="1743.5" width="170" height="102"/>
<path class="sep" d="M1694.5,1788.5H1864.5M1694.5,1822.5H1864.5"/>
<text class="t c" x="1779" y="1755">&lt;&lt;Entity Bean&gt;&gt;</text>
<text class="t c" x="1779" y="1770">&lt;&lt;ORM Persistable&gt;&gt;</text>
<text class="t b c" x="1779" y="1785">SecurityQuestion</text>
<text class="t"><tspan x="1696" y="1802">&lt;&lt;Property&gt;&gt; -questionId : Integer</tspan><tspan x="1696" y="1817">&lt;&lt;Property&gt;&gt; -question : String</tspan><tspan x="1696" y="1836">+toString() : String</tspan></text>
</g>
<g id="Query">
<rect class="cl" x="1884.5" y="1691.5" width="198" height="207"/>
<path class="sep" d="M1884.5,1737.5H2082.5M1884.5,1876.5H2082.5"/>
<text class="t c" x="1983" y="1703">&lt;&lt;Entity Bean&gt;&gt;</text>
<text class="t c" x="1983" y="1718">&lt;&lt;ORM Persistable&gt;&gt;</text>
<text class="t b c" x="1983" y="1733">Query</text>
<text class="t"><tspan x="1886" y="1751">&lt;&lt;Property&gt;&gt; -queryId : Long</tspan><tspan x="1886" y="1766">&lt;&lt;Property&gt;&gt; -name : String</tspan><tspan x="1886" y="1781">&lt;&lt;Property&gt;&gt; -emailId : String</tspan><tspan x="1886" y="1796">&lt;&lt;Property&gt;&gt; -queryType : String</tspan><tspan x="1886" y="1811">&lt;&lt;Property&gt;&gt; -queryDescription : String</tspan><tspan x="1886" y="1826">&lt;&lt;Property&gt;&gt; -queryResponse : String</tspan><tspan x="1886" y="1841">&lt;&lt;Property&gt;&gt; -creationDate : Date</tspan><tspan x="1886" y="1856">&lt;&lt;Property&gt;&gt; -assignedTo : String</tspan><tspan x="1886" y="1871">&lt;&lt;Property&gt;&gt; -status : String</tspan><tspan x="1886" y="1890">+toString() : String</tspan></text>
</g>
<g id="Payment">
<rect class="cl" x="2102.5" y="1706.5" width="187" height="177"/>
<path class="sep" d="M2102.5,1752.5H2289.5M2102.5,1861.5H2289.5"/>
<text class="t c" x="2196" y="1718">&lt;&lt;Entity Bean&gt;&gt;</text>
<text class="t c" x="2196" y="1733">&lt;&lt;ORM Persistable&gt;&gt;</text>
<text class="t b c" x="2196" y="1748">Payment</text>
<text class="t"><tspan x="2104" y="1766">&lt;&lt;Property&gt;&gt; -paymentId : Long</tspan><tspan x="2104" y="1781">&lt;&lt;Property&gt;&gt; -policyId : Long</tspan><tspan x="2104" y="1796">&lt;&lt;Property&gt;&gt; -nameOnCard : String</tspan><tspan x="2104" y="1811">&lt;&lt;Property&gt;&gt; -cardNo : String</tspan><tspan x="2104" y="1826">&lt;&lt;Property&gt;&gt; -cardExpiryDate : String</tspan><tspan x="2104" y="1841">&lt;&lt;Property&gt;&gt; -policyAmount : Float</tspan><tspan x="2104" y="1856">&lt;&lt;Property&gt;&gt; -paymentDate : Date</tspan><tspan x="2104" y="1875">+toString() : String</tspan></text>
</g>
<g id="Customer">
<rect class="cl" x="2309.5" y="1662.5" width="165" height="266"/>
<path class="sep" d="M2309.5,1706.5H2474.5M2309.5,1905.5H2474.5"/>
<text class="t c" x="2392" y="1673">&lt;&lt;Entity Bean&gt;&gt;</text>
<text class="t c" x="2392" y="1688">&lt;&lt;ORM Persistable&gt;&gt;</text>
<text class="t b c" x="2392" y="1703">Customer</text>
<text class="t"><tspan x="2311" y="1720">&lt;&lt;Property&gt;&gt; -customerId : Long</tspan><tspan x="2311" y="1735">&lt;&lt;Property&gt;&gt; -firstName : String</tspan><tspan x="2311" y="1750">&lt;&lt;Property&gt;&gt; -lastName : String</tspan><tspan x="2311" y="1765">&lt;&lt;Property&gt;&gt; -emailId : String</tspan><tspan x="2311" y="1780">&lt;&lt;Property&gt;&gt; -mobileNo : String</tspan><tspan x="2311" y="1795">&lt;&lt;Property&gt;&gt; -address1 : String</tspan><tspan x="2311" y="1810">&lt;&lt;Property&gt;&gt; -address2 : String</tspan><tspan x="2311" y="1825">&lt;&lt;Property&gt;&gt; -address3 : String</tspan><tspan x="2311" y="1840">&lt;&lt;Property&gt;&gt; -gender : String</tspan><tspan x="2311" y="1855">&lt;&lt;Property&gt;&gt; -pincode : Integer</tspan><tspan x="2311" y="1870">&lt;&lt;Property&gt;&gt; -state : String</tspan><tspan x="2311" y="1885">&lt;&lt;Property&gt;&gt; -city : String</tspan><tspan x="2311" y="1900">&lt;&lt;Property&gt;&gt; -DOB : Date</tspan><tspan x="2311" y="1919">+toString() : String</tspan></text>
</g>

<!-- exceptions and converters -->
<g id="InsuranceException">
<rect class="cl" x="23.5" y="2038.5" width="263" height="72"/>
<path class="sep" d="M23.5,2053.5H286.5M23.5,2072.5H286.5"/>
<text class="t b c" x="155" y="2050">InsuranceException</text>
<text class="t"><tspan class="u" x="26" y="2067">-serialVersionUID : long = 4626989426197010768L</tspan><tspan x="26" y="2088">+InsuranceException(arg0 : String, arg1 : Throwable)</tspan><tspan x="26" y="2102">+InsuranceException(arg0 : String)</tspan></text>
</g>
<g id="LocalDateAttributeConverter">
<rect class="cl" x="371.5" y="2038.5" width="274" height="53"/>
<path class="sep" d="M371.5,2053.5H645.5"/>
<text class="t b c" x="508.5" y="2050">LocalDateAttributeConverter</text>
<text class="t"><tspan x="374" y="2067">+convertToDatabaseColumn(locDate : LocalDate) : D...</tspan><tspan x="374" y="2082">+convertToEntityAttribute(sqlDate : Date) : LocalDate</tspan></text>
</g>
<g id="LocalDateTimeAttributeConverter">
<rect class="cl" x="666.5" y="2038.5" width="347" height="53"/>
<path class="sep" d="M666.5,2053.5H1013.5"/>
<text class="t b c" x="840" y="2050">LocalDateTimeAttributeConverter</text>
<text class="t"><tspan x="669" y="2067">+convertToDatabaseColumn(locDateTime : LocalDateTime) : Timest...</tspan><tspan x="669" y="2082">+convertToEntityAttribute(sqlTimestamp : Timestamp) : LocalDateTime</tspan></text>
</g>

<!-- connectors -->
<g id="connectors">
<path class="ln comp" d="M223.5,209.5V372.5"/>
<path class="ln real" d="M223.5,613.5V500.5"/>
<path class="ln real" d="M532.5,635.5V463.5"/>
<path class="ln real" d="M970.5,584.5V523.5"/>
<path class="ln real" d="M1376.5,606.5V500.5"/>
<path class="ln real" d="M1665.5,629.5V478.5"/>
<path class="ln real" d="M2176.5,614.5V478.5"/>
<path class="ln real" d="M194.5,1390.5V1276.5"/>
<path class="ln real" d="M471.5,1405.5V1254.5"/>
<path class="ln real" d="M877.5,1359.5V1299.5"/>
<path class="ln real" d="M1284.5,1390.5V1269.5"/>
<path class="ln real" d="M1560.5,1397.5V1261.5"/>
<path class="ln real" d="M1836.5,1397.5V1261.5"/>
<path class="ln real" d="M2176.5,1412.5V1246.5"/>
<path class="ln real" d="M2516.5,1412.5V1246.5"/>
<path class="ln real" d="M2789.5,1419.5V1239.5"/>
<path class="ln real" d="M3063.5,1404.5V1254.5"/>
<path class="ln comp" d="M223.5,775.5V900L1185,955L194.5,1010V1149.5"/>
<path class="ln comp" d="M532.5,752.5V900L1200,960L851.5,1010V1126.5"/>
<path class="ln comp" d="M970.5,805.5V900L1215,965L901.5,1010V1126.5"/>
<path class="ln comp" d="M1376.5,782.5V890L1540,950L1284.5,1010V1156.5"/>
<path class="ln comp" d="M1665.5,760.5V890L1560.5,1010V1164.5"/>
<path class="ln comp" d="M1917.5,776.5V890L1836.5,1010V1164.5"/>
<path class="ln comp" d="M2089.5,776.5V890L2176.5,1010V1178.5"/>
<path class="ln comp" d="M2262.5,776.5V890L2516.5,1010V1178.5"/>
<path class="ln comp" d="M2435.5,776.5V890L3063.5,1010V1172.5"/>
<path class="ln" d="M164.5,1794.5H467.5"/>
<circle cx="168" cy="1794.5" r="3" fill="#000"/>
<circle cx="462" cy="1794.5" r="3" fill="#000"/>
<text class="t" x="234" y="368">-queryService</text>
<text class="t" x="205" y="1145">-queryDao</text>
<text class="t" x="862" y="1122">-vehicleMasterDao</text>
<text class="t" x="913" y="1122">-vehicleMasterDao</text>
<text class="t" x="1295" y="1152">-userDao</text>
<text class="t" x="1569" y="1159">-stateCityDao</text>
<text class="t" x="1846" y="1159">-customerDao</text>
<text class="t" x="2186" y="1175">-customerVehicleDao</text>
<text class="t" x="2528" y="1175">-paymentDao</text>
<text class="t" x="3072" y="1168">-policyDao</text>
<text class="t" x="176" y="1788">*</text>
<text class="t" x="175" y="1806">cityList</text>
<text class="t" x="454" y="1790" text-anchor="end">-state</text>
</g>

<!-- watermark overlay -->
<rect id="watermark" x="0" y="0" width="3214" height="2134" fill="url(#wm)" pointer-events="none"/>
</svg>
